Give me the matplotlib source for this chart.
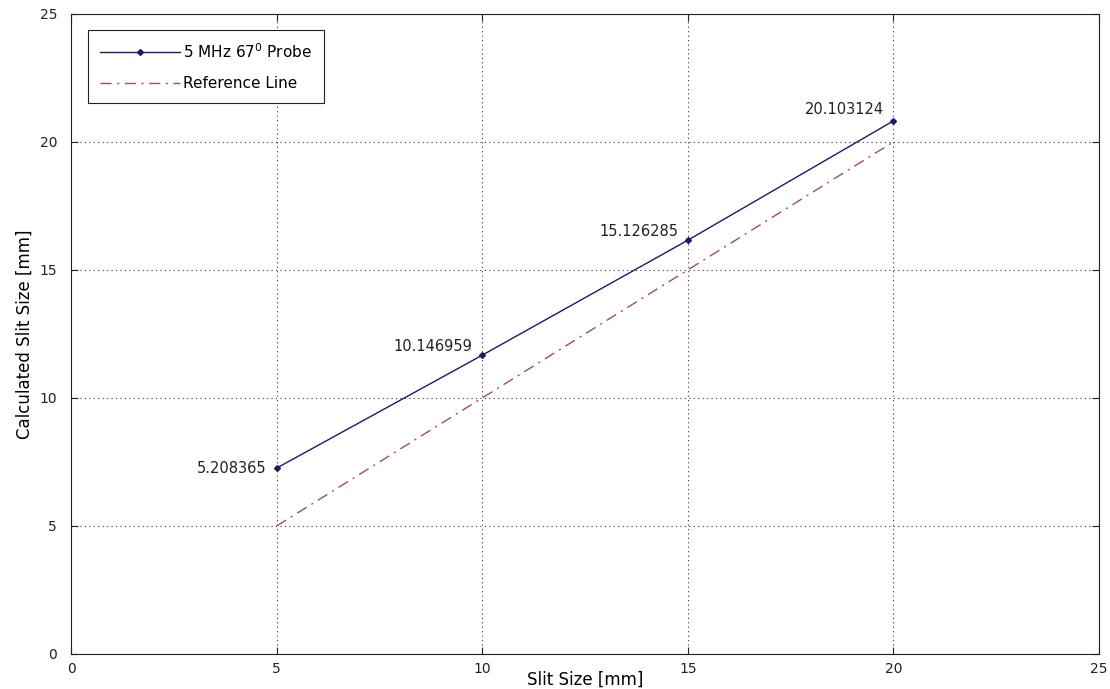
import matplotlib
matplotlib.use('Agg')
import matplotlib.pyplot as plt

# data
slit_size = [5, 10, 15, 20]
calc_size = [7.26, 11.67, 16.16, 20.82]
point_labels = ['5.208365', '10.146959', '15.126285', '20.103124']
ref_x = [5, 20]
ref_y = [5, 20]

label_offsets = [(-7, 0), (-7, 6), (-7, 6), (-7, 8)]

plt.rcParams['font.family'] = 'DejaVu Sans'

fig = plt.figure(figsize=(11.10, 6.89), dpi=100)
ax = fig.add_axes([0.064, 0.0508, 0.926, 0.929])

ax.plot(slit_size, calc_size, color='#1a1a6e', linewidth=1.0,
        marker='D', markersize=3, label=r'5 MHz 67$^0$ Probe')
ax.plot(ref_x, ref_y, color='#a0524a', linewidth=1.0,
        linestyle='-.', dashes=(8, 4, 1.5, 4), label='Reference Line')

for x, y, txt, off in zip(slit_size, calc_size, point_labels, label_offsets):
    ax.annotate(txt, (x, y), xytext=off, textcoords='offset points',
                ha='right', va='center', fontsize=10.5, color='#222222')

ax.set_xlim(0, 25)
ax.set_ylim(0, 25)
ax.set_xticks([0, 5, 10, 15, 20, 25])
ax.set_yticks([0, 5, 10, 15, 20, 25])
ax.grid(True, linestyle=(0, (1, 3)), color='#333333', linewidth=0.8)
ax.tick_params(direction='in', top=True, right=True, labelsize=10,
               length=5, colors='#222222')
ax.tick_params(axis='y', pad=10)
ax.tick_params(axis='x', pad=6)
for s in ax.spines.values():
    s.set_color('#222222')

ax.set_xlabel('Slit Size [mm]', fontsize=12, labelpad=-4)
ax.set_ylabel('Calculated Slit Size [mm]', fontsize=12, labelpad=4)

leg = ax.legend(loc='upper left', bbox_to_anchor=(0.0165, 0.975),
                fontsize=11, fancybox=False, framealpha=1,
                edgecolor='#222222', handlelength=5.2, borderpad=0.8,
                labelspacing=1.0, handletextpad=0.2, borderaxespad=0)
leg.get_frame().set_linewidth(0.8)

fig.savefig('out.png', dpi=100)
